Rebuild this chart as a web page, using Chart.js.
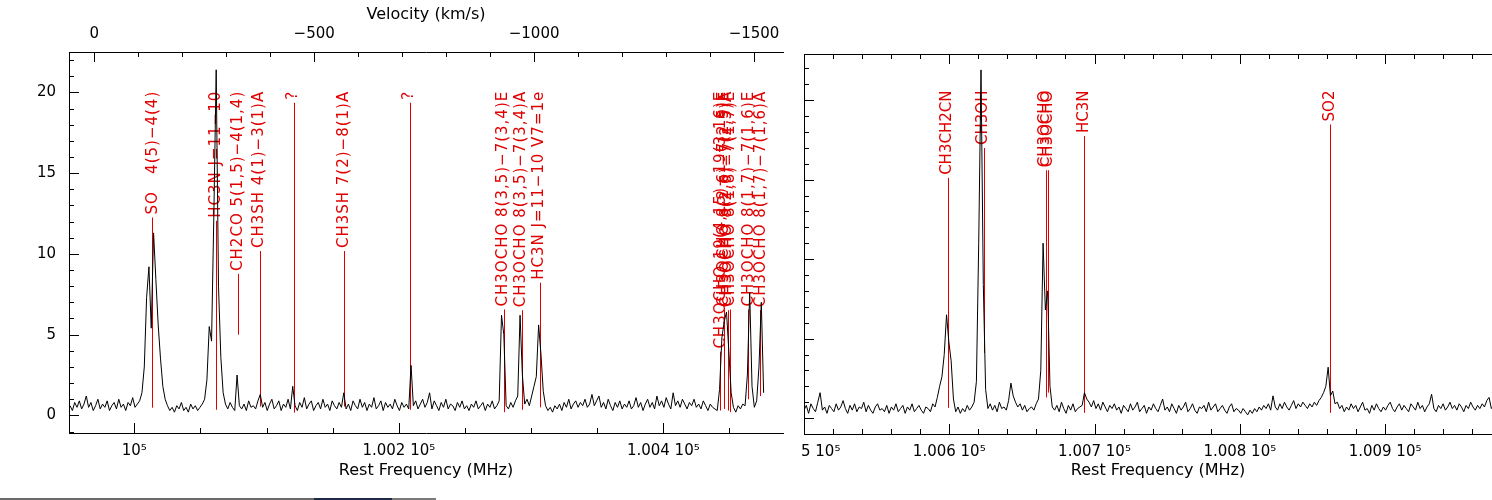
<!DOCTYPE html>
<html>
<head>
<meta charset="utf-8">
<script src="https://cdn.jsdelivr.net/npm/chart.js"></script>
<style>
  body { margin: 0; background: #fff; }
  #wrap { position: relative; width: 1492px; height: 500px; overflow: hidden; background: #fff; }
  #boxR { position: absolute; left: 720px; top: 0; }
  #boxL { position: absolute; left: 0; top: 0; background: #fff; z-index: 2; }
  #strip { position: absolute; left: 0; top: 498px; width: 436px; height: 2px; z-index: 3;
           background: linear-gradient(to right, #6a6a6a 0, #6a6a6a 72%, #1e2a48 72%, #1e2a48 90%, #7a7a7a 90%); }
</style>
</head>
<body>
<div id="wrap">
  <div id="boxR"><canvas id="right" width="802" height="500"></canvas></div>
  <div id="boxL"><canvas id="left" width="800" height="500"></canvas></div>
  <div id="strip"></div>
</div>
<script>
// ---- left panel: spectrum (K) on a regular channel grid ----
const freqStartL = 99951.4;   // MHz, first channel
const freqStepL = 1.754;      // MHz per channel
const specL = [
  0.6, 0.3, 0.8, 0.5, 0.9, 0.4, 0.7, 1.2, 0.5, 0.8, 0.3, 0.6, 1.0, 0.4, 0.7, 0.5, 0.9, 0.3, 0.6, 0.8,
  0.4, 1.0, 0.5, 0.7, 0.3, 0.8, 0.6, 1.1, 0.5, 0.7, 0.9, 1.4, 3.0, 7.3, 9.2, 5.4, 11.3, 8.4, 5.6, 3.5,
  1.8, 1.0, 0.6, 0.3, 0.5, 0.2, 0.6, 0.4, 0.8, 0.3, 0.5, 0.2, 0.7, 0.4, 0.6, 0.3, 0.5, 0.7, 1.0, 2.2,
  5.5, 4.6, 12.5, 21.4, 8.0, 3.6, 1.4, 0.7, 0.4, 0.8, 0.5, 0.3, 2.5, 0.6, 0.4, 0.7, 0.3, 0.9, 0.5, 0.6,
  0.4, 0.9, 1.3, 0.5, 0.8, 0.3, 0.7, 1.0, 0.4, 0.6, 0.9, 0.3, 0.7, 0.5, 1.0, 0.4, 1.8, 0.6, 0.3, 0.8,
  0.5, 1.1, 0.4, 0.7, 0.9, 0.3, 0.6, 0.8, 0.4, 1.0, 0.5, 0.7, 0.3, 0.9, 0.6, 0.4, 0.8, 0.5, 1.4, 0.4,
  0.7, 0.3, 0.9, 0.6, 0.4, 1.0, 0.5, 0.8, 0.3, 0.7, 0.5, 1.1, 0.4, 0.6, 0.9, 0.3, 0.8, 0.5, 0.7, 0.4,
  1.0, 0.6, 0.3, 0.8, 0.5, 0.7, 0.4, 3.1, 0.6, 0.9, 0.4, 0.7, 1.0, 0.5, 0.8, 1.4, 0.4, 0.9, 0.6, 0.3,
  0.8, 0.5, 1.0, 0.4, 0.7, 0.6, 0.3, 0.8, 0.5, 0.9, 0.4, 0.6, 0.3, 0.7, 0.5, 0.9, 0.4, 0.6, 0.8, 0.3,
  0.7, 0.5, 0.9, 0.4, 0.6, 0.9, 6.2, 5.0, 0.6, 0.4, 0.8, 0.5, 0.9, 1.2, 6.2, 2.5, 0.7, 1.0, 0.6, 1.2,
  1.8, 2.4, 5.6, 3.8, 1.5, 0.6, 0.3, 0.5, 0.2, 0.6, 0.4, 0.7, 0.3, 0.8, 0.5, 1.0, 0.4, 0.7, 0.9, 0.5,
  0.8, 0.6, 1.0, 0.5, 0.7, 1.3, 0.6, 0.9, 1.2, 0.5, 0.8, 0.4, 1.0, 0.6, 0.3, 0.8, 0.5, 0.9, 0.4, 0.7,
  0.5, 0.9, 0.4, 0.6, 1.1, 0.5, 0.8, 0.3, 0.7, 1.0, 0.5, 0.8, 0.4, 1.2, 0.6, 0.9, 0.5, 1.1, 0.7, 0.4,
  1.4, 0.6, 0.9, 0.5, 1.0, 0.7, 0.4, 0.8, 0.6, 1.0, 0.5, 0.7, 0.4, 0.9, 0.6, 0.3, 0.7, 0.5, 0.4, 0.3,
  1.6, 4.8, 5.8, 6.4, 4.0, 1.4, 0.5, 0.2, 0.6, 0.4, 0.7, 0.6, 2.5, 7.6, 1.8, 0.5, 0.9, 3.0, 7.0, 1.4
];
const labelFreqL = [100014.1, 100061.8, 100078.4, 100094.3, 100120.0, 100158.6, 100207.7,
  100278.8, 100292.4, 100306.0, 100443.6, 100445.9, 100448.2, 100450.4, 100464.7, 100473.8];
const labelTextL = ['SO   4(5)\u22124(4)', 'HC3N J=11\u221210', 'CH2CO 5(1,5)\u22124(1,4)', 'CH3SH 4(1)\u22123(1)A', '?',
  'CH3SH 7(2)\u22128(1)A', '?', 'CH3OCHO 8(3,5)\u22127(3,4)E', 'CH3OCHO 8(3,5)\u22127(3,4)A', 'HC3N J=11\u221210 V7=1e',
  'CH3OCHO 19(4,15)\u221219(3,16)E', 'CH3OCHO 8(2,6)\u22127(2,5)E', 'CH3OCHO 8(2,6)\u22127(2,5)A', 'CH3OCHO 8(1,8)\u22127(1,7)E',
  'CH3OCHO 8(1,7)\u22127(1,6)E', 'CH3OCHO 8(1,7)\u22127(1,6)A'];
const labelEndL = [0.48, 0.35, 5.0, 0.55, 0.17, 0.55, 0.35, 0.2, 0.35, 0.5, 0.3, 0.4, 0.3, 0.2, 1.0, 1.2];
const labelTopL = 20.1;
const freqRangeL = [99950.6, 100490.5];
const velRangeL = [-1565.9, 57.5];
const yRangeL = [-1.09, 22.5];
const freqTicksL = [100000, 100200, 100400];
const velTicksL = [0, -500, -1000, -1500];
const yTicksL = [0, 5, 10, 15, 20];

// ---- right panel ----
const freqStartR = 100500;
const freqStepR = 1.5826;
const specR = [
  0.5, 0.8, 0.3, 0.9, 0.6, 0.4, 1.0, 1.6, 0.5, 0.7, 0.3, 0.8, 0.6, 0.4, 0.9, 0.5, 0.7, 1.1, 0.6, 0.3,
  0.8, 0.5, 0.9, 0.4, 0.7, 0.6, 1.0, 0.4, 0.8, 0.5, 0.3, 0.7, 0.9, 0.5, 0.6, 0.4, 0.8, 0.3, 0.7, 0.5,
  0.9, 0.4, 0.6, 0.8, 0.3, 0.7, 0.5, 0.9, 0.4, 0.6, 0.8, 0.5, 0.3, 0.7, 0.6, 0.4, 0.9, 0.7, 1.3, 2.0,
  2.6, 4.0, 6.5, 4.8, 3.6, 1.2, 0.4, 0.7, 0.3, 0.6, 0.4, 0.8, 0.5, 0.7, 1.0, 2.3, 11.0, 21.9, 8.4, 1.8,
  0.6, 0.9, 0.5, 0.8, 0.4, 1.0, 0.6, 0.7, 0.5, 1.1, 2.2, 1.4, 1.0, 0.7, 0.9, 0.5, 0.8, 0.4, 0.6, 0.7,
  0.5, 0.9, 1.2, 3.0, 11.0, 6.8, 8.0, 2.0, 0.7, 0.5, 0.8, 0.4, 1.0, 0.6, 0.3, 0.8, 0.5, 0.9, 0.4, 0.6,
  0.7, 0.8, 1.6, 1.2, 1.0, 0.7, 1.1, 0.6, 0.9, 0.5, 1.0, 0.7, 0.4, 0.8, 0.6, 0.9, 0.5, 0.7, 0.3, 0.8,
  0.6, 0.4, 0.9, 0.5, 0.7, 1.0, 0.4, 0.6, 0.8, 0.3, 0.7, 0.5, 0.9, 0.6, 0.4, 0.8, 1.2, 0.5, 0.7, 0.4,
  0.9, 0.6, 0.3, 0.8, 0.5, 0.7, 1.0, 0.4, 0.6, 0.9, 0.5, 0.3, 0.7, 0.6, 0.8, 0.4, 1.0, 0.5, 0.7, 0.9,
  0.4, 0.6, 0.8, 0.5, 0.3, 0.7, 0.9, 0.4, 0.6, 0.5, 0.3, 0.6, 0.4, 0.2, 0.5, 0.3, 0.6, 0.4, 0.7, 0.5,
  0.8, 0.6, 0.9, 0.5, 1.4, 0.7, 0.5, 0.9, 0.6, 1.0, 0.7, 0.5, 0.8, 1.1, 0.6, 0.9, 0.7, 1.0, 0.8, 0.6,
  0.9, 0.7, 1.0, 0.8, 1.1, 1.3, 1.6, 2.0, 3.2, 1.4, 1.7, 0.9, 1.0, 0.6, 0.8, 0.4, 0.7, 0.5, 0.9, 0.6,
  0.8, 0.4, 0.7, 1.0, 0.5, 0.6, 0.3, 0.8, 0.5, 0.9, 0.6, 0.4, 0.7, 0.5, 0.8, 1.0, 0.6, 0.4, 0.7, 0.9,
  0.5, 0.8, 0.6, 0.4, 0.9, 0.7, 0.5, 1.0, 0.6, 0.8, 0.4, 0.7, 0.9, 1.5, 0.6, 0.4, 0.8, 0.6, 0.9, 0.5,
  0.7, 1.0, 0.6, 0.8, 0.5, 0.9, 0.7, 0.4, 0.8, 0.6, 1.0, 0.7, 0.5, 0.8, 0.6, 0.9, 0.7, 1.1, 1.3, 0.6,
  0.8, 0.5, 0.9, 0.6, 0.7, 0.5
];
const labelFreqR = [100598.6, 100623.4, 100666.0, 100668.1, 100692.9, 100862.1];
const labelTextR = ['CH3CH2CN', 'CH3OH', 'CH3OCHO', 'CH3OCHO', 'HC3N', 'SO2'];
const labelEndR = [0.65, 4.1, 1.3, 1.6, 0.33, 0.33];
const labelTopR = 20.6;
const freqRangeR = [100500, 100987.4];
const yRangeR = [-1.0, 22.9];
const freqTicksR = [100500, 100600, 100700, 100800, 100900];

const RED = '#e00000';
Chart.defaults.font.family = '"DejaVu Sans", sans-serif';
Chart.defaults.color = '#000';

const freqLabel = v => v === 100000 ? '10\u2075' : (v / 1e5).toFixed(3) + ' 10\u2075';
const fixTicks = list => s => { s.ticks = list.map(v => ({ value: v })); };

// inward tick marks, major and minor, placed through the scales
function tickMarks(axes) {
  return {
    id: 'tickMarks',
    afterDraw(chart) {
      const ctx = chart.ctx, a = chart.chartArea;
      ctx.save();
      ctx.strokeStyle = '#000';
      ctx.lineWidth = 1;
      axes.forEach(t => {
        const s = chart.scales[t.id];
        const lo = Math.min(s.min, s.max), hi = Math.max(s.min, s.max);
        const k0 = Math.ceil(lo / t.minor - 1e-6), k1 = Math.floor(hi / t.minor + 1e-6);
        const ratio = Math.round(t.major / t.minor);
        for (let k = k0; k <= k1; k++) {
          const len = k % ratio === 0 ? 10 : 5;
          const p = Math.round(s.getPixelForValue(k * t.minor)) + 0.5;
          ctx.beginPath();
          if (t.side === 'bottom') { ctx.moveTo(p, a.bottom); ctx.lineTo(p, a.bottom - len); }
          else if (t.side === 'top') { ctx.moveTo(p, a.top); ctx.lineTo(p, a.top + len); }
          else { ctx.moveTo(a.left, p); ctx.lineTo(a.left + len, p); }
          ctx.stroke();
        }
      });
      ctx.restore();
    }
  };
}

// red rotated line identifications with their marker lines
function lineLabels(freqs, texts, ends, topVal, spacing) {
  return {
    id: 'lineLabels',
    beforeDatasetsDraw(chart) {
      const ctx = chart.ctx, xs = chart.scales.x, ys = chart.scales.y;
      const top = ys.getPixelForValue(topVal);
      ctx.save();
      ctx.font = '15px "DejaVu Sans"';
      ctx.letterSpacing = spacing;
      ctx.fillStyle = RED;
      ctx.strokeStyle = RED;
      ctx.lineWidth = 1;
      freqs.forEach((f, i) => {
        const x = xs.getPixelForValue(f);
        const px = 2 * Math.round(x / 2) + 0.5;   // keep thin red strokes on even columns
        const w = ctx.measureText(texts[i]).width;
        ctx.save();
        ctx.translate(x, top);
        ctx.rotate(-Math.PI / 2);
        ctx.textAlign = 'right';
        ctx.textBaseline = 'middle';
        ctx.fillText(texts[i], 0, 0);
        ctx.restore();
        ctx.beginPath();
        ctx.moveTo(px, top + w + 3);
        ctx.lineTo(px, ys.getPixelForValue(ends[i]));
        ctx.stroke();
      });
      ctx.restore();
    }
  };
}

function axisBase(extra) {
  return Object.assign({
    type: 'linear',
    grid: { display: false, drawTicks: false },
    border: { display: true, color: '#000', width: 1 }
  }, extra);
}

function spectrum(start, step, vals) {
  return vals.map((v, i) => ({ x: start + i * step, y: v }));
}

function lineSet(points) {
  return {
    data: points, borderColor: '#000', borderWidth: 1,
    pointRadius: 0, tension: 0, fill: false
  };
}

// left chart
new Chart(document.getElementById('left'), {
  type: 'line',
  data: { datasets: [lineSet(spectrum(freqStartL, freqStepL, specL))] },
  options: {
    responsive: false, animation: false,
    layout: { padding: { left: 0, right: 17, top: 0, bottom: 0 } },
    plugins: { legend: { display: false }, tooltip: { enabled: false } },
    scales: {
      x: axisBase({
        position: 'bottom', min: freqRangeL[0], max: freqRangeL[1],
        afterBuildTicks: fixTicks(freqTicksL),
        ticks: { padding: 9, font: { size: 15 }, maxRotation: 0, autoSkip: false, callback: freqLabel },
        title: { display: true, text: 'Rest Frequency (MHz)', font: { size: 16 }, padding: { top: 0, bottom: 20 } },
        afterFit: s => { s.height = 67; }
      }),
      x2: axisBase({
        position: 'top', reverse: true, min: velRangeL[0], max: velRangeL[1],
        afterBuildTicks: fixTicks(velTicksL),
        ticks: { padding: 9, font: { size: 15 }, maxRotation: 0, autoSkip: false,
                 callback: v => v === 0 ? '0' : '\u2212' + Math.abs(v) },
        title: { display: true, text: 'Velocity (km/s)', font: { size: 16 }, padding: { top: 5, bottom: 0 } },
        afterFit: s => { s.height = 52; }
      }),
      y: axisBase({
        position: 'left', min: yRangeL[0], max: yRangeL[1],
        afterBuildTicks: fixTicks(yTicksL),
        ticks: { padding: 13, font: { size: 15 } },
        afterFit: s => { s.width = 69; }
      })
    }
  },
  plugins: [
    tickMarks([
      { id: 'x', side: 'bottom', major: 200, minor: 50 },
      { id: 'x2', side: 'top', major: 500, minor: 100 },
      { id: 'y', side: 'left', major: 5, minor: 1 }
    ]),
    lineLabels(labelFreqL, labelTextL, labelEndL, labelTopL, '1px')
  ]
});

// right chart
new Chart(document.getElementById('right'), {
  type: 'line',
  data: { datasets: [lineSet(spectrum(freqStartR, freqStepR, specR))] },
  options: {
    responsive: false, animation: false,
    layout: { padding: { left: 0, right: 10, top: 0, bottom: 0 } },
    plugins: { legend: { display: false }, tooltip: { enabled: false } },
    scales: {
      x: axisBase({
        position: 'bottom', min: freqRangeR[0], max: freqRangeR[1],
        afterBuildTicks: fixTicks(freqTicksR),
        ticks: { padding: 9, font: { size: 15 }, maxRotation: 0, autoSkip: false, callback: freqLabel },
        title: { display: true, text: 'Rest Frequency (MHz)', font: { size: 16 }, padding: { top: 0, bottom: 20 } },
        afterFit: s => { s.height = 66; }
      }),
      x2: axisBase({
        position: 'top', min: freqRangeR[0], max: freqRangeR[1],
        ticks: { display: false },
        afterFit: s => { s.height = 54; }
      }),
      y: axisBase({
        position: 'left', min: yRangeR[0], max: yRangeR[1],
        ticks: { display: false },
        afterFit: s => { s.width = 84; }
      })
    }
  },
  plugins: [
    tickMarks([
      { id: 'x', side: 'bottom', major: 100, minor: 20 },
      { id: 'x2', side: 'top', major: 100, minor: 20 },
      { id: 'y', side: 'left', major: 5, minor: 1 }
    ]),
    lineLabels(labelFreqR, labelTextR, labelEndR, labelTopR, '0px')
  ]
});
</script>
</body>
</html>
